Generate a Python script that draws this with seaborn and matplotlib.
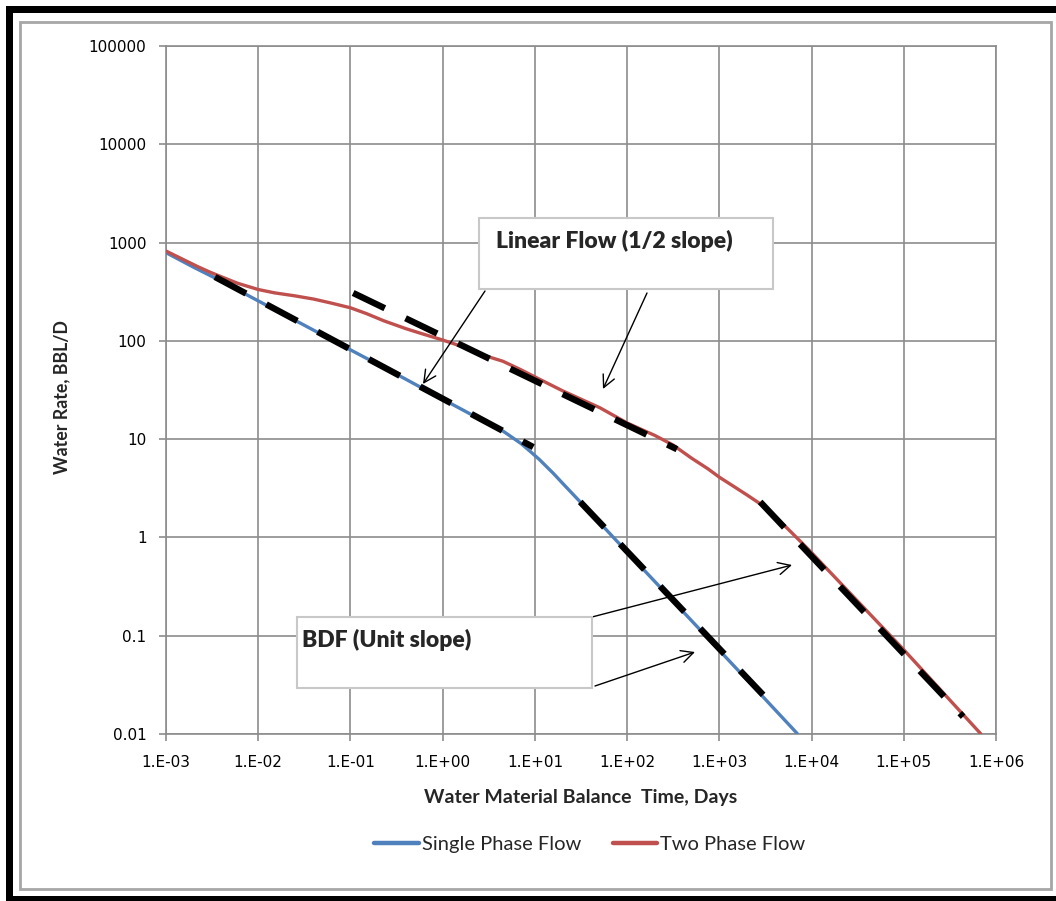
import matplotlib
matplotlib.use("Agg")
import matplotlib.pyplot as plt
import seaborn as sns
import pandas as pd
from matplotlib.patches import Rectangle
from matplotlib.ticker import FixedLocator, FixedFormatter, NullLocator

# ---------------- data ----------------
single_t = [1e-3, 2e-3, 4.2e-3, 1e-2, 3e-2, 0.1, 0.3, 1, 2, 3.5, 4.5, 5.6, 7.1,
            8.9, 11.2, 14.1, 15.8, 20, 31, 100, 300, 1000, 3000, 7000]
single_q = [790, 560, 395, 255, 148, 81, 47, 25.5, 18, 13.8, 12.1, 10.5, 9.0,
            7.5, 6.2, 5.0, 4.5, 3.55, 2.3, 0.71, 0.237, 0.071, 0.0237, 0.0101]

two_t = [1e-3, 1.5e-3, 2.2e-3, 3e-3, 4e-3, 6e-3, 1e-2, 1.5e-2, 2.5e-2, 4e-2, 6e-2,
         0.1, 0.15, 0.23, 0.4, 0.6, 1, 1.6, 2.7, 4.5, 7, 10, 20, 51, 100, 200,
         316, 500, 750, 1000, 1400, 2000, 2770, 3800, 5400, 7500, 1e4, 1e5, 6.8e5]
two_q = [820, 680, 570, 500, 448, 385, 333, 308, 287, 266, 244,
         217, 189, 160, 133, 118, 102, 88, 72, 62, 51, 43, 31, 20.8, 14.6, 10.9,
         8.7, 6.4, 5.0, 4.1, 3.35, 2.7, 2.2, 1.7, 1.25, 0.92, 0.70, 0.072, 0.0101]

# straight-line (log-log) reference fits: endpoints
lin_single_t = [0.0034, 9.6]
lin_single_q = [447, 8.3]
lin_two_t = [0.107, 347]
lin_two_q = [307, 7.9]
bdf_single_t = [31, 2985]
bdf_single_q = [2.3, 0.025]
bdf_two_t = [2770, 4.4e5]
bdf_two_q = [2.3, 0.015]

x_ticks = [1e-3, 1e-2, 1e-1, 1e0, 1e1, 1e2, 1e3, 1e4, 1e5, 1e6]
x_tick_labels = ["1.E-03", "1.E-02", "1.E-01", "1.E+00", "1.E+01", "1.E+02",
                 "1.E+03", "1.E+04", "1.E+05", "1.E+06"]
y_ticks = [0.01, 0.1, 1, 10, 100, 1000, 10000, 100000]
y_tick_labels = ["0.01", "0.1", "1", "10", "100", "1000", "10000", "100000"]

series_names = ["Single Phase Flow", "Two Phase Flow"]
x_label = "Water Material Balance  Time, Days"
y_label = "Water Rate, BBL/D"
note_linear = "Linear Flow (1/2 slope)"
note_bdf = "BDF (Unit slope)"

# ---------------- styling ----------------
sns.set_style("white")
plt.rcParams['font.family'] = ['DejaVu Sans']
LABEL_FONT = ['Lato', 'DejaVu Sans']

W, H = 1056, 901
BLUE = '#4F81BD'
RED = '#C0504D'
GRID = '#8c8c8c'

def fx(px):
    return px / W

def fy(py):
    return 1 - py / H

fig = plt.figure(figsize=(W / 100, H / 100), dpi=100)
fig.patch.set_facecolor('white')
ax = fig.add_axes([fx(166), fy(734), 830 / W, 688 / H])
ax.set_xscale('log')
ax.set_yscale('log')

df_single = pd.DataFrame({'t': single_t, 'q': single_q})
df_two = pd.DataFrame({'t': two_t, 'q': two_q})

sns.lineplot(data=df_single, x='t', y='q', ax=ax, color=BLUE, lw=2.4,
             sort=False, estimator=None, label=series_names[0], zorder=3)
sns.lineplot(data=df_two, x='t', y='q', ax=ax, color=RED, lw=2.4,
             sort=False, estimator=None, label=series_names[1], zorder=3)

dash = (0, (5.5, 3.6))
for tt, qq in [(lin_single_t, lin_single_q), (lin_two_t, lin_two_q),
               (bdf_single_t, bdf_single_q), (bdf_two_t, bdf_two_q)]:
    sns.lineplot(x=tt, y=qq, ax=ax, color='black', lw=4.6, linestyle=dash,
                 sort=False, estimator=None, zorder=4)

ax.set_xlim(1e-3, 1e6)
ax.set_ylim(1e-2, 1e5)
ax.xaxis.set_major_locator(FixedLocator(x_ticks))
ax.xaxis.set_major_formatter(FixedFormatter(x_tick_labels))
ax.yaxis.set_major_locator(FixedLocator(y_ticks))
ax.yaxis.set_major_formatter(FixedFormatter(y_tick_labels))
ax.xaxis.set_minor_locator(NullLocator())
ax.yaxis.set_minor_locator(NullLocator())
ax.grid(True, which='major', color=GRID, lw=1.2)
for s in ax.spines.values():
    s.set_color(GRID)
    s.set_linewidth(1.2)
    s.set_visible(True)
ax.tick_params(axis='both', direction='out', length=5, width=1.2, color=GRID,
               labelsize=11, labelcolor='black', bottom=True, left=True)
ax.tick_params(axis='x', pad=10)
ax.tick_params(axis='y', pad=9)
ax.set_xlabel('')
ax.set_ylabel('')
if ax.get_legend() is not None:
    ax.get_legend().remove()

# axis titles
fig.text(fx(581), fy(797), x_label, ha='center', va='center', fontsize=14,
         fontweight='bold', family=LABEL_FONT)
fig.text(fx(62), fy(397), y_label, ha='center', va='center', rotation=90,
         fontsize=12.8, fontweight='bold', family=LABEL_FONT)

# legend
handles, labels = ax.get_legend_handles_labels()
leg = fig.legend(handles[:2], labels[:2], loc='center', bbox_to_anchor=(fx(590), fy(844)),
                 ncol=2, frameon=False, handlelength=2.2, handletextpad=0.15,
                 columnspacing=1.6, prop={'family': LABEL_FONT, 'size': 14.5})
for ln in leg.get_lines():
    ln.set_linewidth(3.2)

# annotation boxes
box_kw = dict(transform=fig.transFigure, facecolor='white', edgecolor='#c8c8c8',
              lw=1.5, zorder=5)
fig.add_artist(Rectangle((fx(479), fy(289)), (773 - 479) / W, (289 - 218) / H, **box_kw))
fig.add_artist(Rectangle((fx(297), fy(688)), (592 - 297) / W, (688 - 617) / H, **box_kw))
fig.text(fx(496), fy(241), note_linear, ha='left', va='center', fontsize=16.5,
         fontweight='heavy', family=LABEL_FONT, zorder=6)
fig.text(fx(302), fy(640), note_bdf, ha='left', va='center', fontsize=16.5,
         fontweight='heavy', family=LABEL_FONT, zorder=6)

arrow_kw = dict(arrowstyle='->', color='black', lw=1.0, mutation_scale=22,
                shrinkA=0, shrinkB=0)
for (x1, y1, x2, y2) in [(485, 291, 423, 384), (647, 293, 603, 389),
                         (592, 617, 792, 565), (595, 686, 695, 652)]:
    ax.annotate('', xy=(x2, H - y2), xytext=(x1, H - y1), xycoords='figure pixels',
                textcoords='figure pixels', arrowprops=arrow_kw, zorder=7,
                annotation_clip=False)

# outer frames
fig.add_artist(Rectangle((fx(19.5), fy(889)), (1051 - 19.5) / W, (889 - 22) / H,
                         transform=fig.transFigure, fill=False, edgecolor='#a6a6a6',
                         lw=2.0, zorder=8))
frame_kw = dict(transform=fig.transFigure, facecolor='black', edgecolor='none', zorder=9)
fig.add_artist(Rectangle((fx(6), fy(13)), (1056 - 6) / W, 7 / H, **frame_kw))
fig.add_artist(Rectangle((fx(6), fy(901)), 7 / W, (901 - 6) / H, **frame_kw))
fig.add_artist(Rectangle((fx(6), fy(901)), (1056 - 6) / W, 5 / H, **frame_kw))

fig.savefig('out.png', dpi=100)
